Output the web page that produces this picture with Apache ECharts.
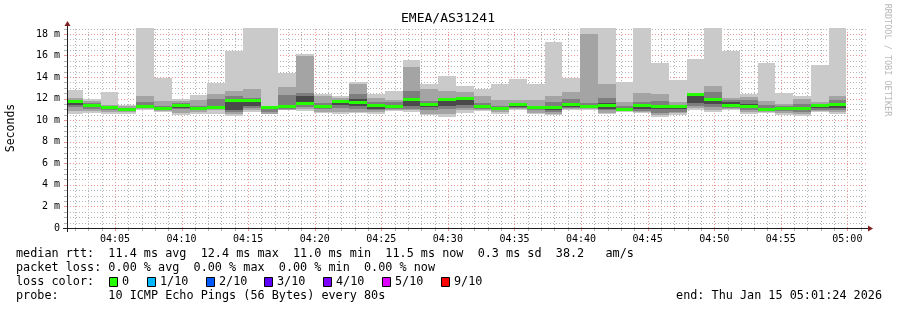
<!DOCTYPE html>
<html><head><meta charset="utf-8">
<script src="https://cdn.jsdelivr.net/npm/echarts@6/dist/echarts.min.js"></script>
<style>html,body{margin:0;padding:0;background:#fff}#c{width:897px;height:310px}</style>
</head><body><div id="c"></div>
<script>
// ---------------- data ----------------
const chartTitle = 'EMEA/AS31241';
const axisStart = '04:01:24';
const axisEnd = '05:01:24';
const firstBinEnd = '04:02:36';
const stepSeconds = 80;
const xTickLabels = ['04:05','04:10','04:15','04:20','04:25','04:30','04:35','04:40','04:45','04:50','04:55','05:00'];
const yTickLabels = ['0','2 m','4 m','6 m','8 m','10 m','12 m','14 m','16 m','18 m'];
const yTickValues = [0,2,4,6,8,10,12,14,16,18];
const yMaxMs = 18.55;

// smoke layers (ms): outer ping range, then progressively inner ranges
const lo0 = [10.60,10.65,10.55,10.55,10.95,10.75,10.50,10.60,10.60,10.43,10.74,10.55,10.90,10.83,10.68,10.55,10.68,10.60,10.83,10.80,10.46,10.28,10.65,10.86,10.59,10.93,10.59,10.52,10.93,10.93,10.55,10.74,10.65,10.30,10.50,10.93,10.74,10.99,10.59,10.68,10.52,10.37,10.74,10.60];
const hi0 = [12.84,12.00,12.65,11.45,18.60,13.95,11.97,12.38,13.43,16.40,18.60,18.60,14.35,16.17,12.47,12.28,13.58,12.47,12.75,15.60,13.40,14.14,13.20,12.93,13.40,13.86,13.40,17.28,13.95,18.60,18.60,13.58,18.60,15.34,13.77,15.70,18.60,16.39,12.47,15.34,12.56,12.28,15.15,18.60];
const lo1 = [10.85,10.85,10.75,10.75,11.00,10.85,10.70,10.80,10.90,10.60,10.90,10.60,10.95,11.00,10.80,10.75,10.80,10.80,10.90,10.90,10.60,10.55,10.90,10.95,10.75,11.00,10.70,10.60,11.00,11.00,10.70,10.85,10.75,10.45,10.70,11.10,10.95,11.05,10.75,10.80,10.65,10.55,10.85,10.75];
const hi1 = [12.10,11.80,11.45,11.30,12.20,11.80,11.80,11.90,12.40,12.70,12.85,11.35,13.10,15.95,12.20,12.10,13.40,12.10,11.90,14.97,12.85,12.70,12.60,12.20,11.90,11.90,11.90,12.20,12.60,18.02,13.40,11.70,12.50,12.40,11.70,12.50,13.20,12.10,12.15,11.75,11.50,12.00,11.70,12.20];
const lo2 = [11.20,11.05,10.95,10.90,11.10,10.95,11.00,10.95,11.05,10.80,11.10,10.80,11.05,11.20,11.00,11.10,11.00,10.95,11.00,11.00,10.90,11.00,11.10,11.05,10.95,11.10,10.90,10.80,11.15,11.10,10.90,10.90,10.85,10.70,10.80,11.30,11.20,11.10,10.95,10.90,10.85,10.80,10.95,10.90];
const hi2 = [11.90,11.55,11.30,11.15,11.70,11.35,11.60,11.30,11.95,12.20,12.10,11.25,12.30,12.55,11.60,11.85,12.45,11.70,11.65,12.70,11.80,12.00,12.10,11.60,11.30,11.50,11.35,11.70,12.00,11.60,12.10,11.35,11.70,11.80,11.45,12.40,12.60,11.90,11.90,11.40,11.30,11.50,11.50,11.85];
const lo3 = [11.45,11.20,11.05,10.95,11.15,11.00,11.15,11.00,11.10,10.95,11.30,11.00,11.15,11.40,11.20,11.40,11.30,11.05,11.15,11.30,11.20,11.30,11.40,11.15,11.05,11.20,11.00,10.95,11.25,11.15,11.00,10.95,11.05,11.05,11.00,11.60,11.50,11.20,11.10,10.95,10.95,10.95,11.10,11.10];
const hi3 = [11.75,11.40,11.20,11.05,11.30,11.10,11.35,11.15,11.20,11.80,11.80,11.20,11.30,12.20,11.35,11.70,12.00,11.40,11.35,12.00,11.50,11.85,11.95,11.30,11.15,11.45,11.15,11.25,11.50,11.30,11.60,11.05,11.40,11.35,11.30,12.40,11.95,11.70,11.50,11.15,11.15,11.20,11.40,11.50];
const medianRtt = [11.72,11.36,11.14,11.00,11.23,11.08,11.32,11.10,11.14,11.82,11.82,11.17,11.27,11.57,11.30,11.73,11.64,11.36,11.30,11.91,11.48,11.90,12.00,11.30,11.10,11.42,11.14,11.17,11.42,11.23,11.36,11.02,11.36,11.30,11.30,12.38,11.88,11.36,11.30,11.02,11.11,11.11,11.36,11.48];

const legendLines = [
  'median rtt:  11.4 ms avg  12.4 ms max  11.0 ms min  11.5 ms now  0.3 ms sd  38.2   am/s',
  'packet loss: 0.00 % avg  0.00 % max  0.00 % min  0.00 % now',
  'loss color:',
  'probe:       10 ICMP Echo Pings (56 Bytes) every 80s'
];
const lossLabels = ['0','1/10','2/10','3/10','4/10','5/10','9/10'];
const lossColors = ['#26ff00','#00b8ff','#0059ff','#5e00ff','#7e00ff','#dd00ff','#ff0000'];
const endText = 'end: Thu Jan 15 05:01:24 2026';

// ---------------- helpers ----------------
function toMin(s){ const p = s.split(':').map(Number); return p[0]*60 + p[1] + (p[2]||0)/60; }
const xMin = toMin(axisStart), xMax = toMin(axisEnd);
const binEnd0 = toMin(firstBinEnd), stepMin = stepSeconds/60;
const xTickValues = xTickLabels.map(toMin);

const smokeData = medianRtt.map((m,k) => [
  binEnd0 + (k-1)*stepMin, binEnd0 + k*stepMin,
  lo0[k], hi0[k], lo1[k], hi1[k], lo2[k], hi2[k], lo3[k], hi3[k], m
]);

// grid line positions (data space)
const vGrid = [];
for (let m = Math.ceil(xMin); m <= Math.floor(xMax); m++) vGrid.push([m, m % 5 === 0 ? 1 : 0]);
const hGrid = [];
for (let v = 0.5; v <= yMaxMs; v += 0.5) hGrid.push([v, Math.abs(v % 2) < 1e-9 ? 1 : 0]);

const GL = 67, GT = 28, GW = 799, GH = 200;
const MONO = "'DejaVu Sans Mono', monospace";
const minorCol = '#b4b4b4';
const majorCol = '#eb9595';

const chart = echarts.init(document.getElementById('c'), null, {renderer:'canvas'});

const graphics = [];
graphics.push({type:'text', x:448, y:19, style:{text:chartTitle, font:"13px "+MONO, fill:'#000', textAlign:'center', textVerticalAlign:'middle'}});
graphics.push({type:'text', x:11, y:128, rotation:Math.PI/2, style:{text:'Seconds', font:"11.5px "+MONO, fill:'#000', textAlign:'center', textVerticalAlign:'middle'}});
graphics.push({type:'text', x:887, y:60, rotation:-Math.PI/2, style:{text:'RRDTOOL / TOBI OETIKER', font:"8.5px "+MONO, fill:'#b8b8b8', textAlign:'center', textVerticalAlign:'middle'}});
const legendY = [254, 268, 282, 296];
legendLines.forEach((t,i) => graphics.push({type:'text', x:16, y:legendY[i], style:{text:t, font:"11.8px "+MONO, fill:'#000', textAlign:'left', textVerticalAlign:'middle'}}));
graphics.push({type:'text', x:882, y:296, style:{text:endText, font:"11.8px "+MONO, fill:'#000', textAlign:'right', textVerticalAlign:'middle'}});
const boxX = [109,147,206,264,323,382,441];
lossLabels.forEach((t,i) => {
  graphics.push({type:'rect', shape:{x:boxX[i]+0.5, y:277.5, width:8, height:9}, style:{fill:lossColors[i], stroke:'#000', lineWidth:1}});
  graphics.push({type:'text', x:boxX[i]+13, y:282, style:{text:t, font:"11.8px "+MONO, fill:'#000', textAlign:'left', textVerticalAlign:'middle'}});
});
// axes + arrows
const X0 = GL, Y0 = GT + GH, X1 = GL + GW, Y1 = GT;
graphics.push({type:'line', z:100, shape:{x1:X0-4, y1:Y0+0.5, x2:X1+4, y2:Y0+0.5}, style:{stroke:'#1f1f1f', lineWidth:1}});
graphics.push({type:'line', z:100, shape:{x1:X0+0.5, y1:Y0+4, x2:X0+0.5, y2:Y1-4}, style:{stroke:'#1f1f1f', lineWidth:1}});
graphics.push({type:'polygon', z:101, shape:{points:[[X1+2,Y0-3+0.5],[X1+2,Y0+3+0.5],[X1+7,Y0+0.5]]}, style:{fill:'#7f1f1f'}});
graphics.push({type:'polygon', z:101, shape:{points:[[X0-3+0.5,Y1-2],[X0+3+0.5,Y1-2],[X0+0.5,Y1-7]]}, style:{fill:'#7f1f1f'}});

chart.setOption({
  animation:false,
  backgroundColor:'#ffffff',
  grid:{left:GL, top:GT, width:GW, height:GH, containLabel:false},
  xAxis:{type:'value', min:xMin, max:xMax,
    axisLine:{show:false}, axisTick:{show:false}, splitLine:{show:false},
    axisLabel:{customValues:xTickValues, margin:6, color:'#000', fontFamily:MONO, fontSize:10,
      formatter:(v)=>{ const i = xTickValues.findIndex(t=>Math.abs(t-v)<1e-6); return i>=0 ? xTickLabels[i] : ''; }}
  },
  yAxis:{type:'value', min:0, max:yMaxMs,
    axisLine:{show:false}, axisTick:{show:false}, splitLine:{show:false},
    axisLabel:{customValues:yTickValues, margin:7, color:'#000', fontFamily:MONO, fontSize:10,
      formatter:(v)=>{ const i = yTickValues.findIndex(t=>Math.abs(t-v)<1e-6); return i>=0 ? yTickLabels[i] : ''; }}
  },
  graphic:graphics,
  series:[
    {type:'custom', name:'vgrid', z:1, clip:false, data:vGrid, encode:{x:0},
      renderItem:(params, api)=>{
        const v = api.value(0), major = api.value(1);
        const b = api.coord([v, 0]), t = api.coord([v, yMaxMs]);
        const x = Math.round(b[0]) + 0.5;
        const col = major ? majorCol : minorCol;
        return {type:'group', children:[
          {type:'line', shape:{x1:x, y1:Math.round(b[1]), x2:x, y2:Math.round(t[1])}, style:{stroke:col, lineWidth:1, lineDash:[1,2]}},
          {type:'line', shape:{x1:x, y1:Math.round(b[1]), x2:x, y2:Math.round(b[1])+3}, style:{stroke:col, lineWidth:1}}
        ]};
      }
    },
    {type:'custom', name:'hgrid', z:1, clip:false, data:hGrid, encode:{y:0},
      renderItem:(params, api)=>{
        const v = api.value(0), major = api.value(1);
        const l = api.coord([xMin, v]), r = api.coord([xMax, v]);
        const y = Math.round(l[1]) + 0.5;
        const col = major ? majorCol : minorCol;
        return {type:'group', children:[
          {type:'line', shape:{x1:Math.round(l[0]), y1:y, x2:Math.round(r[0]), y2:y}, style:{stroke:col, lineWidth:1, lineDash:[1,2]}},
          {type:'line', shape:{x1:Math.round(l[0])-3, y1:y, x2:Math.round(l[0]), y2:y}, style:{stroke:col, lineWidth:1}}
        ]};
      }
    },
    {type:'custom', name:'smoke', z:3, clip:true, data:smokeData,
      encode:{x:[0,1], y:[2,3]},
      renderItem:(params, api)=>{
        const x0 = api.value(0), x1 = api.value(1);
        const layers = [[2,3,'#cacaca'],[4,5,'#a4a4a4'],[6,7,'#7e7e7e'],[8,9,'#4a4a4a']];
        const ch = [];
        layers.forEach(([a,b,c])=>{
          const p0 = api.coord([x0, api.value(b)]);
          const p1 = api.coord([x1, api.value(a)]);
          ch.push({type:'rect', shape:{x:Math.round(p0[0]), y:Math.round(p0[1]), width:Math.round(p1[0])-Math.round(p0[0]), height:Math.round(p1[1])-Math.round(p0[1])}, style:{fill:c}});
        });
        const m0 = api.coord([x0, api.value(10)]);
        const m1 = api.coord([x1, api.value(10)]);
        ch.push({type:'rect', shape:{x:Math.round(m0[0]), y:Math.round(m0[1]-1.5), width:Math.round(m1[0])-Math.round(m0[0]), height:3}, style:{fill:lossColors[0]}});
        return {type:'group', children:ch};
      }
    }
  ]
});
</script></body></html>
